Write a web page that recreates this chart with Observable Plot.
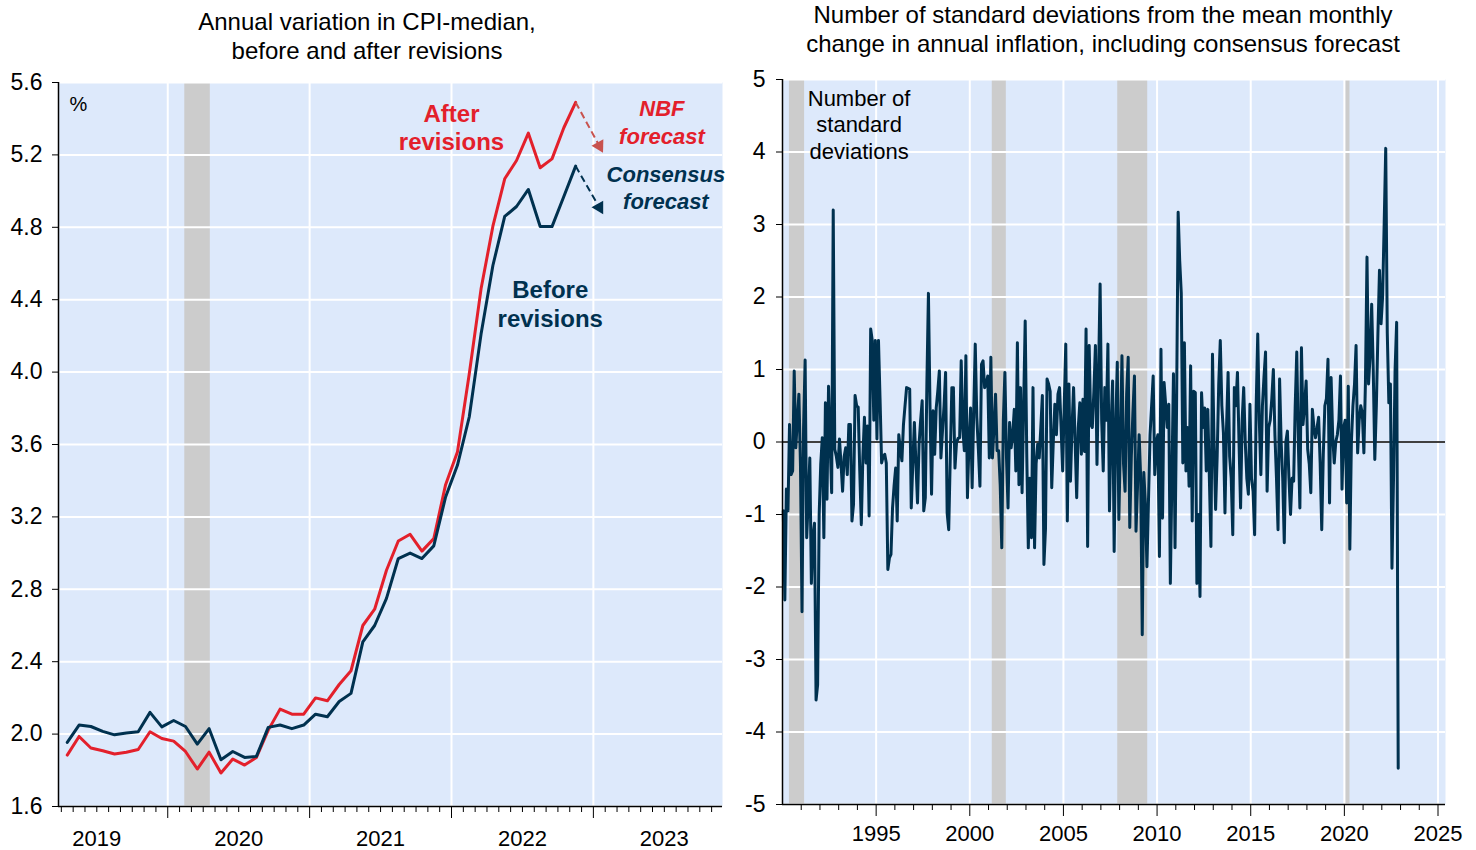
<!DOCTYPE html>
<html><head><meta charset="utf-8">
<script src="https://cdn.jsdelivr.net/npm/d3@7"></script>
<script src="https://cdn.jsdelivr.net/npm/@observablehq/plot@0.6"></script>
<style>
body{margin:0;background:#fff;font-family:"Liberation Sans",Arial,sans-serif;}
#wrap{position:relative;width:1476px;height:850px;overflow:hidden;background:#fff}
.title{position:absolute;text-align:center;font-size:24px;line-height:29px;color:#000;white-space:nowrap;z-index:2}
#left{position:absolute;left:0;top:0}
#right{position:absolute;left:740px;top:0}
</style></head><body>
<div id="wrap">
<div id="left"></div><div id="right"></div>
<div class="title" style="left:0;width:734px;top:7px">Annual variation in CPI-median,<br>before and after revisions</div>
<div class="title" style="left:740px;width:726px;top:0px">Number of standard deviations from the mean monthly<br>change in annual inflation, including consensus forecast</div>
</div>
<script>
// ---------- LEFT PANEL DATA ----------
const cpiStart = [2019, 4]; // first month (year, month)
const cpiBefore = [
  1.954, 2.05, 2.042, 2.015, 1.996, 2.006, 2.013, 2.12, 2.04,
  2.075, 2.042, 1.945, 2.03, 1.858, 1.904, 1.871, 1.877, 2.037, 2.05, 2.03, 2.05,
  2.11, 2.096, 2.18, 2.225, 2.51, 2.6, 2.75, 2.97, 3.0, 2.97, 3.04, 3.31,
  3.485, 3.752, 4.21, 4.589, 4.86, 4.915, 5.009, 4.804, 4.804, 4.97, 5.138
];
const cpiAfter = [
  1.884, 1.987, 1.923, 1.908, 1.89, 1.9, 1.915, 2.013, 1.976,
  1.961, 1.904, 1.807, 1.9, 1.785, 1.862, 1.829, 1.871, 2.022, 2.138, 2.11, 2.11,
  2.2, 2.184, 2.274, 2.35, 2.6, 2.69, 2.905, 3.067, 3.104, 3.011, 3.08, 3.378,
  3.558, 3.99, 4.46, 4.806, 5.068, 5.169, 5.32, 5.129, 5.178, 5.35, 5.49
];
const forecastMonth = [2023, 1];
const nbfForecast = 5.25;
const consensusForecast = 4.91;
const leftXDomain = [2019.23, 2023.91];
const leftYDomain = [1.6, 5.6];
const leftYTicks = [1.6, 2.0, 2.4, 2.8, 3.2, 3.6, 4.0, 4.4, 4.8, 5.2, 5.6];
const leftYears = [2019, 2020, 2021, 2022, 2023];
const leftRecessions = [[2020.12, 2020.3]];

// ---------- RIGHT PANEL DATA ----------
const sdStart = [1990, 1];
const stdDevs = [
  -0.95, -2.18, -0.65, -0.95, 0.24, -0.45, -0.4, 0.98, -0.08, 0.3, 0.66, -0.3,   // 1990
  -2.34, 0.2, 1.13, -1.32, -0.8, -0.22, -1.95, -1.3, -1.12, -3.56, -3.35, -1.0,  // 1991
  -0.3, 0.06, -1.32, 0.54, -0.79, 0.77, 0.0, -0.7, 3.2, -0.1, -0.2, -0.35,       // 1992
  0.04, -0.3, -0.68, -0.2, -0.08, -0.45, 0.24, 0.24, -1.09, -0.86, 0.64, 0.5,    // 1993
  0.48, -0.4, -1.14, -0.2, 0.34, -0.29, 0.22, -1.02, 1.56, 1.4, 0.3, 1.4,        // 1994
  0.04, 1.4, 0.6, -0.29, -0.2, -0.17, -0.29, -1.76, -1.6, -1.55, -0.91, -0.6,    // 1995
  -0.36, -1.09, 0.1, -0.1, -0.26, 0.24, 0.5, 0.75, 0.74, 0.73, -0.91, -0.3,      // 1996
  0.27, -0.3, -0.84, -0.03, 0.3, 0.57, -0.95, -0.77, 0.8, 2.05, 0.5, -0.72,      // 1997
  0.43, -0.17, 0.47, 0.7, 0.98, -0.22, 0.15, 0.5, 0.96, -0.98, -1.21, -0.2,      // 1998
  0.75, 0.75, -0.36, -0.01, 0.05, 0.06, 1.12, 0.2, -0.12, 1.19, -0.77, 0.0,      // 1999
  0.47, -0.63, 0.4, 1.35, 0.34, -0.1, -0.61, 1.07, 1.12, 0.75, 0.8, 0.91,        // 2000
  -0.22, 1.17, -0.22, 0.2, 0.66, -0.12, -0.12, -0.6, -1.46, 0.3, 0.96, -0.2,     // 2001
  -0.91, 0.27, -0.08, 0.1, 0.45, -0.4, 1.37, -0.59, 0.75, -0.7, 0.5, 1.67,       // 2002
  -0.17, -1.46, -0.5, -1.32, 0.75, -1.46, -0.3, -0.03, -0.22, 0.2, 0.64, -1.69,  // 2003
  -1.2, 0.87, 0.8, 0.7, -0.63, 0.0, 0.52, 0.1, 0.66, 0.75, 0.2, -0.4,            // 2004
  0.5, 1.35, -1.09, 0.8, -0.54, 0.2, 0.75, 0.0, -0.77, 0.2, 0.54, -0.17,         // 2005
  0.59, -0.13, 1.56, -1.44, 1.33, 0.24, 0.2, 0.7, 1.33, -0.31, 0.96, 2.18,       // 2006
  0.3, -0.4, 0.75, 0.3, 1.35, -0.95, 0.2, 0.84, -1.51, 0.2, 1.1, -1.07,          // 2007
  0.0, 1.19, -0.3, -0.68, 0.66, 1.17, -1.18, -0.2, 0.4, 0.91, -1.23, -0.6,       // 2008
  0.1, -0.5, -2.66, -0.42, -0.85, -1.72, -0.8, 0.1, 0.5, 0.91, -0.45, 0.0,       // 2009
  0.1, -1.58, 1.28, -1.05, 0.82, 0.52, 0.2, 0.52, -1.95, -0.5, 0.94, -1.46,      // 2010
  0.5, 3.17, 2.5, 2.05, -0.29, 1.37, -0.4, 0.2, -0.61, 1.05, -1.09, 0.7,         // 2011
  0.68, -1.95, -1.0, -2.13, 0.68, 0.2, 0.47, -0.4, 0.45, -0.5, -1.44, 1.21,      // 2012
  0.0, -0.93, -0.2, 0.8, 1.4, 0.5, 0.13, -0.98, 0.2, 0.96, -0.2, -0.5,           // 2013
  -1.28, 0.75, 0.5, 0.96, 0.0, -0.91, 0.3, 0.75, 0.0, -0.5, -0.72, 0.52,         // 2014
  -0.5, -0.68, -1.28, 0.5, 1.49, 0.3, -0.45, 0.5, 0.9, 1.24, -0.68, 0.2,         // 2015
  0.3, 0.6, 1.0, 0.1, -0.5, -1.21, 0.87, 0.0, -0.5, -1.39, 0.0, 0.15,            // 2016
  -0.5, -1.0, -0.5, -0.54, 0.5, 1.24, 0.0, -0.91, 1.3, 0.24, 0.5, 0.84,          // 2017
  -0.1, -0.3, -0.7, 0.45, 0.2, 0.06, 0.2, 0.34, -0.3, -1.21, -0.17, 0.5,         // 2018
  0.6, 1.14, -0.84, 0.89, 0.1, -0.29, 0.0, 0.1, 0.3, 0.91, -0.65, 0.2,           // 2019
  0.3, -0.84, 0.77, -1.48, 0.0, 0.5, 0.8, 1.33, -0.15, 0.3, 0.5, 0.4,            // 2020
  -0.15, 0.82, 2.55, 0.8, 1.2, 1.9, 1.0, -0.24, 0.5, 1.5, 2.37, 1.63,            // 2021
  2.0, 3.0, 4.05, 1.5, 0.54, 0.8, -1.74, -0.5, 1.0, 1.65, -4.5                   // 2022
];
const rightXDomain = [1990, 2025.4];
const rightYDomain = [-5, 5];
const rightYTicks = [-5, -4, -3, -2, -1, 0, 1, 2, 3, 4, 5];
const rightMajorYears = [1995, 2000, 2005, 2010, 2015, 2020, 2025];
const rightRecessions = [[1990.37, 1991.18], [2001.2, 2001.95], [2007.9, 2009.5], [2020.07, 2020.3]];

// ---------- ANNOTATIONS ----------
const leftLabels = [
  {text: "After\nrevisions", x: 2022.0, y: 5.355, color: "red", style: "normal"},
  {text: "Before\nrevisions", x: 2022.696, y: 4.382, color: "navy", style: "normal"},
  {text: "NBF\nforecast", x: 2023.483, y: 5.387, color: "red", style: "italic"},
  {text: "Consensus\nforecast", x: 2023.511, y: 5.023, color: "navy", style: "italic"}
];
const unitLabel = {text: "%", x: 2019.37, y: 5.478};
const rightNote = {text: "Number of\nstandard\ndeviations", x: 1994.09, y: 4.39};

// ---------- STYLE ----------
const BG = "#dde9fb", GREY = "#cccccc", RED = "#e3202b", NAVY = "#00314f", RED2 = "#c8524e";
const FONT = "'Liberation Sans', Arial, sans-serif";

const monthTime = (start, k) => start[0] + (start[1] - 1 + k + 0.5) / 12;

// ---------- LEFT ----------
{
  const W = 730, H = 850, mt = 82, mb = 44, ml = 58, mr = 8;
  const rows = cpiBefore.map((b, k) => ({t: monthTime(cpiStart, k), before: b, after: cpiAfter[k]}));
  const last = rows[rows.length - 1];
  const ft = forecastMonth[0] + (forecastMonth[1] - 0.5) / 12;
  const sx = d3.scaleLinear(leftXDomain, [ml, W - mr]);
  const sy = d3.scaleLinear(leftYDomain, [H - mb, mt]);
  const ang = (x1, y1, x2, y2) => Math.atan2(sx(x2) - sx(x1), -(sy(y2) - sy(y1))) * 180 / Math.PI;
  const fc = [
    {x1: last.t, y1: last.after, x2: ft, y2: nbfForecast, c: RED2, a: ang(last.t, last.after, ft, nbfForecast)},
    {x1: last.t, y1: last.before, x2: ft, y2: consensusForecast, c: NAVY, a: ang(last.t, last.before, ft, consensusForecast)}
  ];
  const majors = leftYears.filter(y => y > leftXDomain[0] && y < leftXDomain[1]);
  const minors = [];
  for (let y = leftYears[0]; y <= leftYears[leftYears.length - 1]; y++)
    for (let m = 1; m < 12; m++) { const v = y + m / 12; if (v > leftXDomain[0] && v < leftXDomain[1]) minors.push(v); }
  const mids = leftYears.map(y => y + 0.5);
  const lbl = leftLabels.map(d => ({...d, fill: d.color === "red" ? RED : NAVY}));
  const plot = Plot.plot({
    width: W, height: H, marginTop: mt, marginBottom: mb, marginLeft: ml, marginRight: mr,
    style: {fontFamily: FONT, fontSize: "23px", background: "transparent", color: "black", overflow: "visible"},
    x: {type: "linear", domain: leftXDomain},
    y: {domain: leftYDomain},
    marks: [
      Plot.frame({fill: BG, stroke: "none"}),
      Plot.rect(leftRecessions, {x1: d => d[0], x2: d => d[1], y1: leftYDomain[0], y2: leftYDomain[1], fill: GREY}),
      Plot.gridY({ticks: leftYTicks, stroke: "white", strokeOpacity: 1, strokeWidth: 2}),
      Plot.gridX({ticks: majors, stroke: "white", strokeOpacity: 1, strokeWidth: 2}),
      Plot.line(rows, {x: "t", y: "after", stroke: RED, strokeWidth: 3}),
      Plot.line(rows, {x: "t", y: "before", stroke: NAVY, strokeWidth: 3}),
      Plot.link(fc, {x1: "x1", y1: "y1", x2: "x2", y2: "y2", stroke: "c", strokeWidth: 2, strokeDasharray: "7,4"}),
      Plot.dot(fc, {x: "x2", y: "y2", symbol: "triangle", r: 5, fill: "c", stroke: "none", rotate: "a"}),
      Plot.text(lbl.filter(d => d.style === "normal"), {x: "x", y: "y", text: "text", fill: "fill", fontSize: 24, fontWeight: "bold", lineHeight: 1.2, textAnchor: "middle"}),
      Plot.text(lbl.filter(d => d.style === "italic"), {x: "x", y: "y", text: "text", fill: "fill", fontSize: 22, fontWeight: "bold", fontStyle: "italic", lineHeight: 1.25, textAnchor: "middle"}),
      Plot.text([unitLabel], {x: "x", y: "y", text: "text", fill: "black", fontSize: 20, textAnchor: "middle"}),
      Plot.ruleX([leftXDomain[0]], {stroke: "black", strokeWidth: 1.5}),
      Plot.ruleY([leftYDomain[0]], {stroke: "black", strokeWidth: 1.5}),
      Plot.axisY({ticks: leftYTicks, tickSize: 6, tickPadding: 10, tickFormat: d => d.toFixed(1), label: null, fontSize: 23}),
      Plot.axisX({ticks: minors, tickSize: 6, tickFormat: () => "", label: null}),
      Plot.axisX({ticks: majors, tickSize: 12, tickFormat: () => "", label: null}),
      Plot.axisX({ticks: mids, tickSize: 0, tickPadding: 24, tickFormat: d => String(Math.floor(d)), label: null, fontSize: 22})
    ]
  });
  document.getElementById("left").append(plot);
}

// ---------- RIGHT ----------
{
  const W = 736, H = 850, mt = 79, mb = 46, ml = 42, mr = 31;
  const rows = stdDevs.map((v, k) => ({t: monthTime(sdStart, k), v}));
  const minors = [];
  for (let y = Math.ceil(rightXDomain[0]) + 1; y <= rightXDomain[1]; y++) if (!rightMajorYears.includes(y)) minors.push(y);
  const plot = Plot.plot({
    width: W, height: H, marginTop: mt, marginBottom: mb, marginLeft: ml, marginRight: mr,
    style: {fontFamily: FONT, fontSize: "23px", background: "transparent", color: "black", overflow: "visible"},
    x: {type: "linear", domain: rightXDomain},
    y: {domain: rightYDomain},
    marks: [
      Plot.frame({fill: BG, stroke: "none"}),
      Plot.rect(rightRecessions, {x1: d => d[0], x2: d => d[1], y1: rightYDomain[0], y2: rightYDomain[1], fill: GREY}),
      Plot.gridY({ticks: rightYTicks, stroke: "white", strokeOpacity: 1, strokeWidth: 2}),
      Plot.gridX({ticks: rightMajorYears, stroke: "white", strokeOpacity: 1, strokeWidth: 2}),
      Plot.ruleY([0], {stroke: "black", strokeWidth: 1.5}),
      Plot.line(rows, {x: "t", y: "v", stroke: NAVY, strokeWidth: 3}),
      Plot.text([rightNote], {x: "x", y: "y", text: "text", fill: "black", fontSize: 22, lineHeight: 1.2, textAnchor: "middle"}),
      Plot.ruleX([rightXDomain[0]], {stroke: "black", strokeWidth: 1.5}),
      Plot.ruleY([rightYDomain[0]], {stroke: "black", strokeWidth: 1.5}),
      Plot.axisY({ticks: rightYTicks, tickSize: 6, tickPadding: 11, tickFormat: d => String(d), label: null, fontSize: 23}),
      Plot.axisX({ticks: minors, tickSize: 6, tickFormat: () => "", label: null}),
      Plot.axisX({ticks: rightMajorYears, tickSize: 12, tickPadding: 9, tickFormat: d => String(d), label: null, fontSize: 22})
    ]
  });
  document.getElementById("right").append(plot);
}
</script>
</body></html>
